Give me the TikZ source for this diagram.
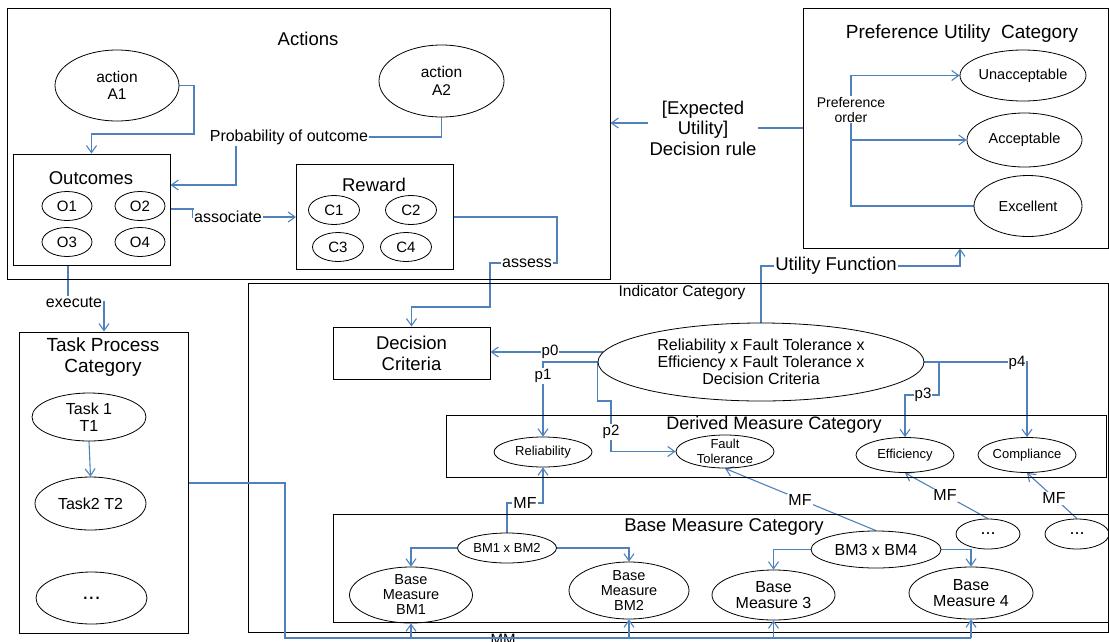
\documentclass[tikz,border=0pt]{standalone}
\usepackage{fontspec}
\setmainfont{Liberation Sans}
\usetikzlibrary{arrows.meta,shapes.geometric,calc}
\definecolor{lnk}{RGB}{79,129,189}
\newcommand{\myfs}[2]{\fontsize{#1}{#2}\selectfont}
\pgfdeclarelayer{bg}
\pgfdeclarelayer{fg}
\pgfsetlayers{bg,main,fg}
\begin{document}
\begin{tikzpicture}[x=1pt,y=-1pt,
  box/.style={draw=black, line width=1pt, rectangle, inner sep=0pt},
  ell/.style={draw=black, line width=0.8pt, ellipse, inner sep=0pt},
  lbl/.style={align=center, inner sep=0pt},
  txt/.style={align=center, inner sep=1pt},
  lab/.style={align=center, inner sep=1pt, fill=white},
  conn/.style={draw=lnk, line width=1.1pt},
  arr/.style={conn, -{Straight Barb[length=7pt,width=10pt]}},
]
\useasboundingbox (0,0) rectangle (1109,641);

% ---------- boxes ----------
\node[box, minimum width=603, minimum height=271] (actions) at (308.5,143.5) {};
\node[box, minimum width=305, minimum height=240] (pref) at (955.5,128) {};
\node[box, minimum width=860, minimum height=349] (ind) at (678,457.5) {};
\node[box, minimum width=169, minimum height=301] (task) at (103.5,482.5) {};
\node[box, minimum width=157, minimum height=111] (outc) at (91.5,209.5) {};
\node[box, minimum width=157, minimum height=105] (rew) at (375,216.5) {};
\node[box, minimum width=157, minimum height=52, align=center, font=\myfs{18.5}{21}] (dec) at (411.5,353) {Decision\\Criteria};
\node[box, minimum width=660, minimum height=62] (der) at (776,446) {};
\node[box, minimum width=775, minimum height=108] (base) at (720.5,568.5) {};

% ---------- titles ----------
\node[txt, font=\myfs{18.5}{22}] (tact) at (308,39) {Actions};
\node[txt, font=\myfs{18.5}{22}] (tout) at (91,178) {Outcomes};
\node[txt, font=\myfs{18.5}{22}] (trew) at (374,185) {Reward};
\node[txt, font=\myfs{19}{22}] (tpref) at (962,34) {Preference Utility\ \ Category};
\node[txt, font=\myfs{15.5}{18}] (tind) at (682,292) {Indicator Category};
\node[txt, font=\myfs{18}{21}] (tder) at (774,425) {Derived Measure Category};
\node[txt, font=\myfs{18.5}{21}] (tbase) at (724,527) {Base Measure Category};
\node[txt, font=\myfs{19}{21}] (ttask) at (103,357.5) {Task Process\\Category};

% ---------- ellipses ----------
\node[ell, minimum width=124, minimum height=71, label={[lbl, font=\myfs{15.5}{17.5}]center:{action\\A1}}] (a1) at (117,85.5) {};
\node[ell, minimum width=125, minimum height=72, label={[lbl, font=\myfs{15.5}{17.5}]center:{action\\A2}}] (a2) at (441.5,81) {};
\node[ell, minimum width=50, minimum height=29, label={[lbl, font=\myfs{15}{17}]center:{O1}}] (o1) at (67,206) {};
\node[ell, minimum width=50, minimum height=29, label={[lbl, font=\myfs{15}{17}]center:{O2}}] (o2) at (140,206) {};
\node[ell, minimum width=50, minimum height=29, label={[lbl, font=\myfs{15}{17}]center:{O3}}] (o3) at (67,242) {};
\node[ell, minimum width=50, minimum height=29, label={[lbl, font=\myfs{15}{17}]center:{O4}}] (o4) at (140,242) {};
\node[ell, minimum width=51, minimum height=29, label={[lbl, font=\myfs{15}{17}]center:{C1}}] (c1) at (334,210) {};
\node[ell, minimum width=51, minimum height=29, label={[lbl, font=\myfs{15}{17}]center:{C2}}] (c2) at (411,210) {};
\node[ell, minimum width=51, minimum height=29, label={[lbl, font=\myfs{15}{17}]center:{C3}}] (c3) at (338,247) {};
\node[ell, minimum width=51, minimum height=29, label={[lbl, font=\myfs{15}{17}]center:{C4}}] (c4) at (406,247) {};
\node[ell, minimum width=126, minimum height=51, label={[lbl, font=\myfs{14.5}{17}]center:{Unacceptable}}] (unacc) at (1023,75.5) {};
\node[ell, minimum width=115, minimum height=54, label={[lbl, font=\myfs{14.5}{17}]center:{Acceptable}}] (acc) at (1024.5,140) {};
\node[ell, minimum width=108, minimum height=61, label={[lbl, font=\myfs{14.5}{17}]center:{Excellent}}] (exc) at (1028,206) {};
\node[ell, minimum width=326, minimum height=78, label={[lbl, font=\myfs{16}{17}]center:{Reliability x Fault Tolerance x\\Efficiency x Fault Tolerance x\\Decision Criteria}}] (bige) at (761,362) {};
\node[ell, minimum width=98, minimum height=30, label={[lbl, font=\myfs{13}{15}]center:{Reliability}}] (rel) at (543,452) {};
\node[ell, minimum width=98, minimum height=33, label={[lbl, font=\myfs{13}{15}]center:{Fault\\Tolerance}}] (ft) at (725,451.5) {};
\node[ell, minimum width=98, minimum height=35, label={[lbl, font=\myfs{13}{15}]center:{Efficiency}}] (eff) at (905,455) {};
\node[ell, minimum width=98, minimum height=35, label={[lbl, font=\myfs{13}{15}]center:{Compliance}}] (comp) at (1027,455) {};
\node[ell, minimum width=99, minimum height=30, label={[lbl, font=\myfs{13}{15}]center:{BM1 x BM2}}] (bm12) at (507,548) {};
\node[ell, minimum width=130, minimum height=37, label={[lbl, font=\myfs{16}{18}]center:{BM3 x BM4}}] (bm34) at (876,549.5) {};
\node[ell, minimum width=123, minimum height=56, label={[lbl, font=\myfs{14.5}{15}]center:{Base\\Measure\\BM1}}] (bm1) at (411,595) {};
\node[ell, minimum width=120, minimum height=57, label={[lbl, font=\myfs{14.5}{15}]center:{Base\\Measure\\BM2}}] (bm2) at (629,590.5) {};
\node[ell, minimum width=123, minimum height=50, label={[lbl, font=\myfs{16}{16.5}]center:{Base\\Measure 3}}] (bm3) at (773.5,595) {};
\node[ell, minimum width=124, minimum height=52, label={[lbl, font=\myfs{16}{16.5}]center:{Base\\Measure 4}}] (bm4) at (971,593) {};
\node[ell, minimum width=64, minimum height=30, label={[lbl, font=\myfs{18}{18}]center:{...}}] (dA) at (988,534) {};
\node[ell, minimum width=64, minimum height=30, label={[lbl, font=\myfs{18}{18}]center:{...}}] (dB) at (1077,534) {};
\node[ell, minimum width=114, minimum height=48, label={[lbl, font=\myfs{16}{17}]center:{Task 1\\T1}}] (t1) at (89,417) {};
\node[ell, minimum width=111, minimum height=53, label={[lbl, font=\myfs{16}{17}]center:{Task2 T2}}] (t2) at (90.5,503.5) {};
\node[ell, minimum width=111, minimum height=52, label={[lbl, font=\myfs{22}{22}]center:{...}}] (t3) at (91.5,598) {};

% ---------- connector labels ----------
\node[lab, font=\myfs{16}{18}] (prob) at (289,137) {Probability of outcome};
\node[lab, font=\myfs{16}{18}] (assoc) at (228,217) {associate};
\node[lab, font=\myfs{16}{18}] (assess) at (527,263) {assess};
\node[lab, font=\myfs{16}{18}] (exec) at (74,302) {execute};
\node[lab, font=\myfs{14}{15}] (pord) at (851,109.5) {Preference\\order};
\node[lab, font=\myfs{18.5}{20.5}] (expt) at (703,128) {[Expected\\Utility]\\Decision rule};
\node[lab, font=\myfs{18.5}{21}] (uf) at (836,266) {Utility Function};
\node[lab, font=\myfs{15}{17}] (p0) at (550,352) {p0};
\node[lab, font=\myfs{15}{17}] (p1) at (543,376) {p1};
\node[lab, font=\myfs{15}{17}] (p2) at (611,432) {p2};
\node[lab, font=\myfs{15}{17}] (p3) at (923,395) {p3};
\node[lab, font=\myfs{15}{17}] (p4) at (1017,363) {p4};
\node[lab, font=\myfs{16}{18}] (mf1) at (525,503) {MF};
\node[lab, font=\myfs{16}{18}] (mf2) at (800,500) {MF};
\node[lab, font=\myfs{16}{18}] (mf3) at (945,495) {MF};
\node[lab, font=\myfs{16}{18}] (mf4) at (1054,498) {MF};
\node[lab, font=\myfs{15}{17}] (mm) at (503,639) {MM};

% ---------- connectors ----------
\begin{pgfonlayer}{bg}
\draw[arr] (a1.east) -| (194,134) -| (outc.north);
\draw[conn] (a2.south) |- (prob.east);
\draw[arr] (prob.south -| 236,0) |- (outc.east |- 0,185);
\draw[arr] (outc.east |- 0,209) -| (193,217) -- (rew.west |- 0,217);
\draw[arr] (rew.east |- 0,217) -| (557,263) -| (490,307) -| (dec.north);
\draw[arr] (outc.south -| 68,0) |- (104,302) -- (task.north -| 104,0);
\draw[arr] (expt.west |- 0,123) -- (actions.east |- 0,123);
\draw[conn] (pref.west |- 0,128) -- (expt.east |- 0,128);
\draw[arr] (pord.north) |- (unacc.west);
\draw[arr] (pord.south) |- (acc.west);
\draw[conn] (pord.south) |- (exc.west);
\draw[conn] (bige.north) |- (uf.west);
\draw[arr] (uf.east) -| (pref.south -| 960,0);
\draw[arr] ($(bige.center)+(-158,-10)$) -- (dec.east |- 0,352);
\draw[arr] (bige.west) -| (rel.north);
\draw[arr] (bige.west) |- (611,401) |- (ft.west);
\draw[arr] (bige.east) -| (939,395) -| (eff.north);
\draw[arr] (bige.east) -| (comp.north);
\draw[arr] (t1.south) -- (t2.north);
\draw[arr] (bm12.west) -| (bm1.north);
\draw[arr] (bm12.east) -| (bm2.north);
\draw[arr] (bm34.west) -| (bm3.north);
\draw[arr] (bm34.east) -| (bm4.north);
\draw[arr] (bm12.north) |- (543,503) -- (rel.south);
\draw[arr] (bm34.north) -- (ft.south);
\draw[arr] (dA.north) -- (eff.south);
\draw[arr] (dB.north) -- (comp.south);
\end{pgfonlayer}
\begin{pgfonlayer}{fg}
\draw[conn, line width=1.8pt] (task.east |- 0,483) -| (285,638) -- (bm4.south |- 0,638);
\draw[arr] (bm1.south |- 0,638) -- (bm1.south);
\draw[arr] (bm2.south |- 0,638) -- (bm2.south);
\draw[arr] (bm3.south |- 0,638) -- (bm3.south);
\draw[arr] (bm4.south |- 0,638) -- (bm4.south);
\end{pgfonlayer}
\end{tikzpicture}
\end{document}
